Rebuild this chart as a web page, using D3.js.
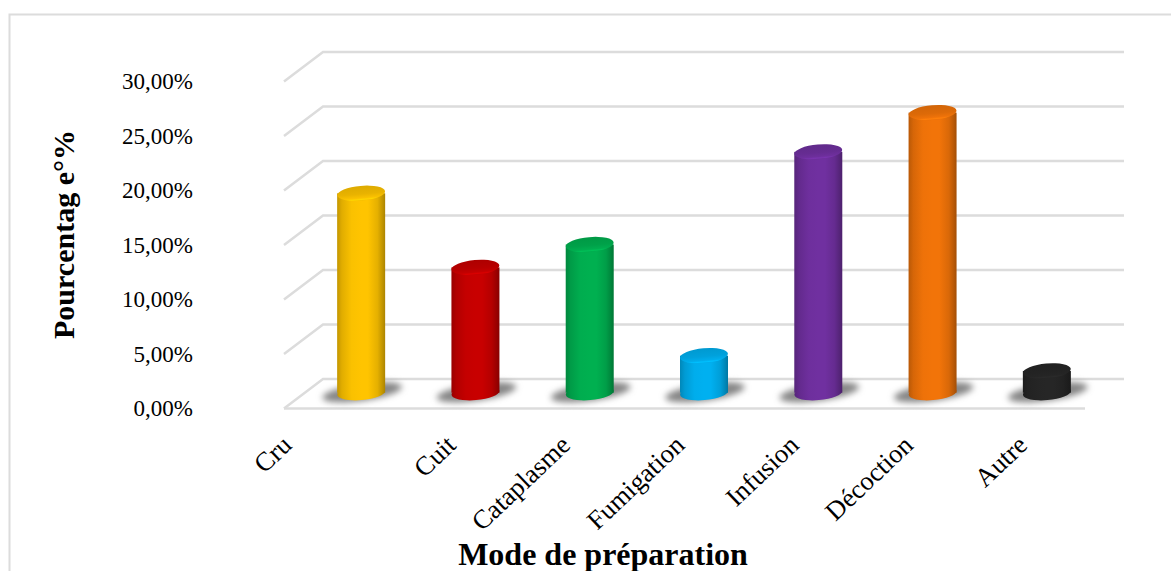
<!DOCTYPE html>
<html lang="fr">
<head>
<meta charset="utf-8">
<title>Mode de préparation</title>
<script src="https://cdn.jsdelivr.net/npm/d3@7/dist/d3.min.js"></script>
<style>
  html, body { margin: 0; padding: 0; background: #fff; }
  svg { display: block; }
  text { font-family: "Liberation Serif", "Times New Roman", serif; fill: #000; }
</style>
</head>
<body>
<svg id="chart" width="1171" height="571"></svg>
<script>
// Share of each preparation mode, in percent
const categories = ["Cru", "Cuit", "Cataplasme", "Fumigation", "Infusion", "Décoction", "Autre"];
const values = [18.3, 11.5, 13.6, 3.4, 22.1, 25.7, 2.0];
const colors = ["#ffc400", "#c80000", "#00b050", "#00b0f0", "#7030a0", "#f27409", "#262626"];
const yTicks = [0, 5, 10, 15, 20, 25, 30];

const svg = d3.select("#chart");
const defs = svg.append("defs");

// Oblique projection of the 3D plot box: the back wall sits up and to the right
const depth = { x: 39, y: -29.5 };
const x = d3.scaleBand().domain(categories).range([285, 1085]);
const y = d3.scaleLinear().domain([0, 30]).range([408.5, 81.5]);
const grid = "#dcdcdc";

// Outer chart frame, cut off by the page on the right and at the bottom
svg.append("path")
  .attr("d", "M9.5,571V14.5H1171")
  .attr("fill", "none").attr("stroke", grid).attr("stroke-width", 2);

// Gridlines along the back wall and down the side wall
const gridG = svg.append("g").attr("fill", "none").attr("stroke", grid).attr("stroke-width", 2.5);
gridG.selectAll("path").data(yTicks).join("path")
  .attr("d", d => `M${x.range()[0] - 1},${y(d)}L${x.range()[0] + depth.x - 1},${y(d) + depth.y}L${x.range()[1] + depth.x},${y(d) + depth.y}`);
// Front edge of the floor
gridG.append("line")
  .attr("x1", x.range()[0] - 1).attr("x2", x.range()[1])
  .attr("y1", y(0)).attr("y2", y(0));

// Value axis labels, with a French decimal comma
const frFormat = d3.formatLocale({ decimal: ",", thousands: " ", grouping: [3], currency: ["", " €"] }).format(".2f");
const yAxis = d3.axisLeft(y).tickValues(yTicks).tickSize(0).tickPadding(0).tickFormat(d => frFormat(d) + "%");
svg.append("g").attr("transform", "translate(193,0)").call(yAxis)
  .call(g => g.select(".domain").remove())
  .call(g => g.selectAll("text")
    .style("font-family", '"Liberation Serif", serif')
    .style("font-size", "23px").attr("fill", "#000"));

// Blur for the soft shadows cast on the floor
defs.append("filter").attr("id", "soft")
  .attr("x", "-30%").attr("y", "-60%").attr("width", "160%").attr("height", "220%")
  .append("feGaussianBlur").attr("stdDeviation", 3);

// One side gradient and one cap gradient per bar colour
colors.forEach((c, i) => {
  const side = defs.append("linearGradient").attr("id", `side${i}`);
  [[0, 0.75], [0.1, 0.35], [0.3, 0.05], [0.5, 0], [0.64, 0], [0.84, 0.3], [0.94, 0.75], [1, 1.1]]
    .forEach(([o, k]) => side.append("stop").attr("offset", o).attr("stop-color", d3.color(c).darker(k)));
  const cap = defs.append("linearGradient").attr("id", `cap${i}`).attr("x1", 0).attr("x2", 0).attr("y1", 0).attr("y2", 1);
  [[0, 0.4], [0.55, 0.25], [0.82, 0.05], [0.92, -0.25], [1, 0.1]]
    .forEach(([o, k]) => cap.append("stop").attr("offset", o).attr("stop-color", d3.color(c).darker(k)));
});

// Cylinders stand halfway back on the floor
const rx = 24, ry = 7.4, tilt = -5;
const baseY = y(0) + depth.y / 2 - 1;
const cx = d => x(d) + x.bandwidth() / 2 + depth.x / 2 - 0.5;

const data = categories.map((name, i) => ({ name, value: values[i], i }));
const barHeight = d => y(0) - y(d.value);

const bars = svg.append("g").selectAll("g").data(data).join("g");

bars.append("ellipse")
  .attr("cx", d => cx(d.name) + 1)
  .attr("cy", baseY - 0.5)
  .attr("rx", 40).attr("ry", 8.5)
  .attr("transform", d => `rotate(-8 ${cx(d.name) + 1} ${baseY - 0.5})`)
  .attr("fill", "#858585").attr("filter", "url(#soft)");

bars.append("ellipse")
  .attr("cx", d => cx(d.name)).attr("cy", baseY)
  .attr("rx", rx).attr("ry", ry)
  .attr("transform", d => `rotate(${tilt} ${cx(d.name)} ${baseY})`)
  .attr("fill", d => `url(#side${d.i})`);

bars.append("rect")
  .attr("x", d => cx(d.name) - rx).attr("width", rx * 2)
  .attr("y", d => baseY - barHeight(d)).attr("height", barHeight)
  .attr("fill", d => `url(#side${d.i})`);

bars.append("ellipse")
  .attr("cx", d => cx(d.name)).attr("cy", d => baseY - barHeight(d))
  .attr("rx", rx).attr("ry", ry)
  .attr("transform", d => `rotate(${tilt} ${cx(d.name)} ${baseY - barHeight(d)})`)
  .attr("fill", d => `url(#cap${d.i})`);

// Slanted category labels end under each band; the short first one sits further left
const firstLabelShift = -50;
svg.append("g").selectAll("text").data(categories).join("text")
  .attr("text-anchor", "end")
  .attr("font-size", 26.5)
  .attr("transform", (d, i) => `translate(${x(d) + x.bandwidth() / 2 + (i === 0 ? firstLabelShift : 0) + 1},${447}) rotate(-43.5)`)
  .text(d => d);

// Axis titles
svg.append("text")
  .attr("x", 603).attr("y", 565)
  .attr("text-anchor", "middle").attr("font-weight", "bold").attr("font-size", 32)
  .text("Mode de préparation");

svg.append("text")
  .attr("transform", "translate(74,234.5) rotate(-90)")
  .attr("text-anchor", "middle").attr("font-weight", "bold").attr("font-size", 30)
  .text("Pourcentag e°%");
</script>
</body>
</html>
